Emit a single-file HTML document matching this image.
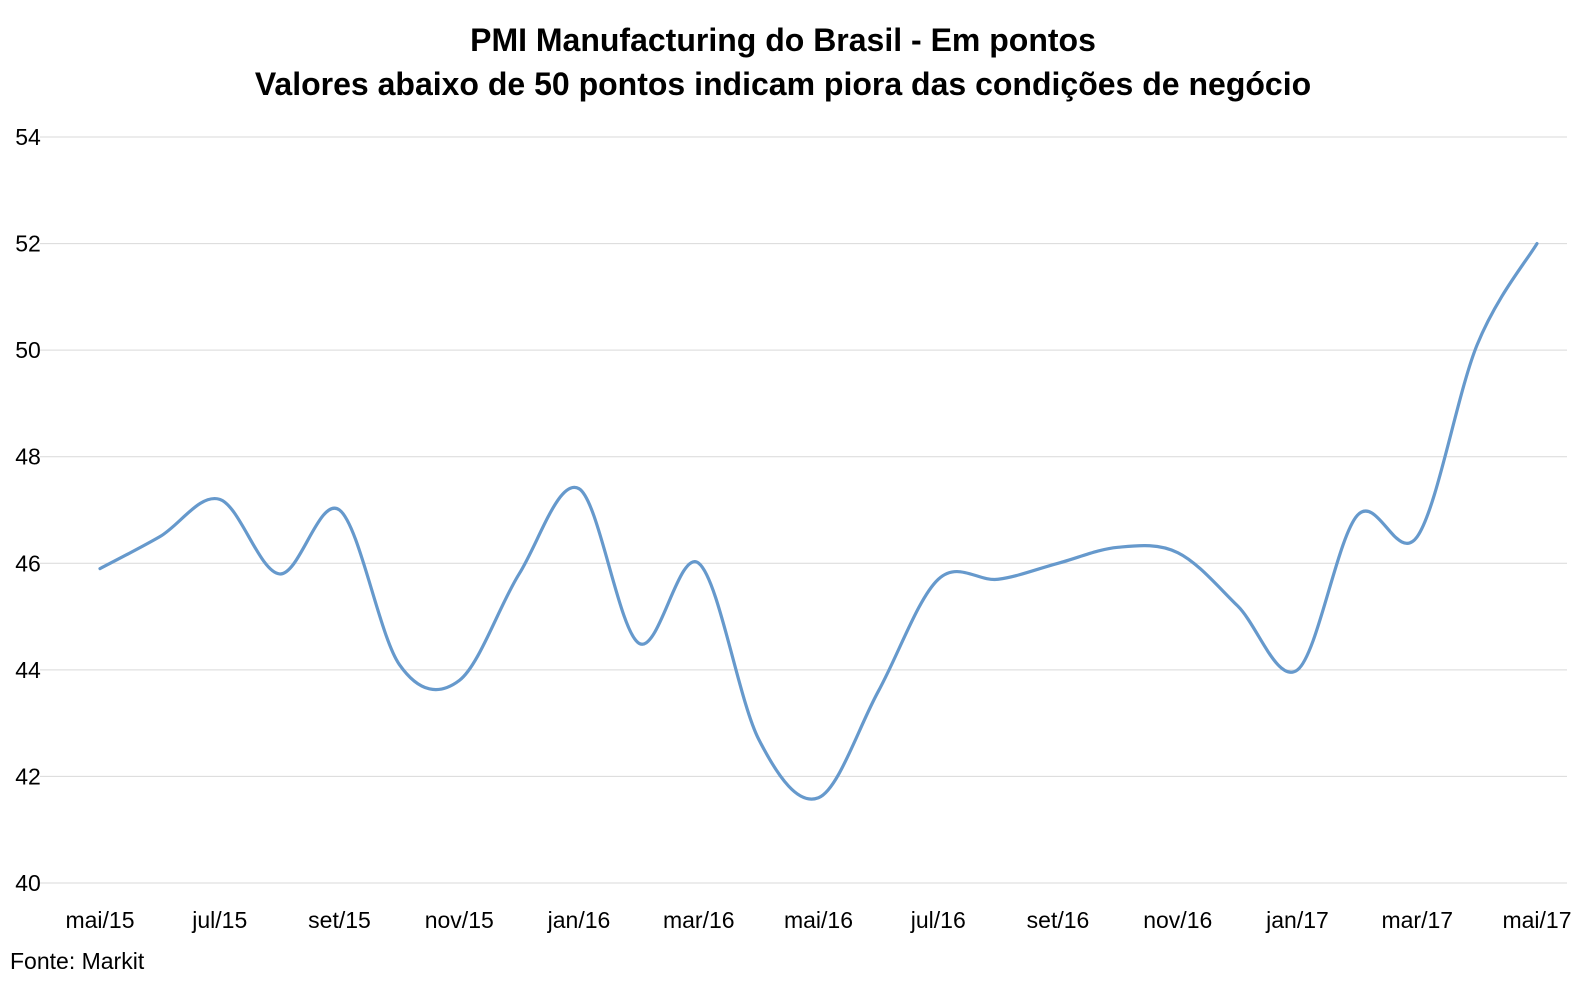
<!DOCTYPE html>
<html><head><meta charset="utf-8"><style>
html,body{margin:0;padding:0;background:#fff;}
svg{display:block;font-family:"Liberation Sans",sans-serif;}
</style></head><body>
<svg id="chart" width="1580" height="986">
<text x="783" y="51" text-anchor="middle" font-size="32" font-weight="bold" fill="#000">PMI Manufacturing do Brasil - Em pontos</text>
<text x="783" y="95" text-anchor="middle" font-size="32" font-weight="bold" fill="#000">Valores abaixo de 50 pontos indicam piora das condições de negócio</text>
<g id="grid"></g>
<g id="yticks"></g>
<g id="xticks"></g>
<path id="line" fill="none" stroke="#6699CC" stroke-width="3.2" stroke-linejoin="round" stroke-linecap="round"></path>
<text x="10" y="969" font-size="23" fill="#000">Fonte: Markit</text>
</svg>
<script>
const months = ["mai/15","jun/15","jul/15","ago/15","set/15","out/15","nov/15","dez/15","jan/16","fev/16","mar/16","abr/16","mai/16","jun/16","jul/16","ago/16","set/16","out/16","nov/16","dez/16","jan/17","fev/17","mar/17","abr/17","mai/17"];
const values = [45.9,46.5,47.2,45.8,47.0,44.1,43.8,45.8,47.4,44.5,46.0,42.7,41.6,43.6,45.7,45.7,46.0,46.3,46.2,45.2,44.0,46.9,46.5,50.1,52.0];
const yTicks = [40,42,44,46,48,50,52,54];
const NS="http://www.w3.org/2000/svg";
const x0=100, dx=59.875;
const xs=i=>x0+i*dx;
const ys=v=>883-(v-40)*(883-137)/14;
const grid=document.getElementById('grid'), yt=document.getElementById('yticks'), xt=document.getElementById('xticks');
yTicks.forEach(v=>{
  const l=document.createElementNS(NS,'line');
  l.setAttribute('x1',40);l.setAttribute('x2',1567);l.setAttribute('y1',ys(v));l.setAttribute('y2',ys(v));
  l.setAttribute('stroke','#D9D9D9');l.setAttribute('stroke-width',1);
  
  
  grid.appendChild(l);
  const t=document.createElementNS(NS,'text');
  t.setAttribute('x',28);t.setAttribute('y',ys(v)+8);t.setAttribute('text-anchor','middle');t.setAttribute('font-size',23);
  t.textContent=v;
  
  
  yt.appendChild(t);
});
months.forEach((m,i)=>{
  if(i%2) return;
  const t=document.createElementNS(NS,'text');
  t.setAttribute('x',xs(i));t.setAttribute('y',928);t.setAttribute('text-anchor','middle');t.setAttribute('font-size',23);
  t.textContent=m;
  
  
  xt.appendChild(t);
});
const pts=values.map((v,i)=>[xs(i),ys(v)]);
let d=`M${pts[0][0]},${pts[0][1]}`;
const k=1/6;
for(let i=0;i<pts.length-1;i++){
  const p0=pts[Math.max(i-1,0)],p1=pts[i],p2=pts[i+1],p3=pts[Math.min(i+2,pts.length-1)];
  const c1=[p1[0]+(p2[0]-p0[0])*k,p1[1]+(p2[1]-p0[1])*k];
  const c2=[p2[0]-(p3[0]-p1[0])*k,p2[1]-(p3[1]-p1[1])*k];
  d+=` C${c1[0]},${c1[1]} ${c2[0]},${c2[1]} ${p2[0]},${p2[1]}`;
}
document.getElementById('line').setAttribute('d',d);
</script>
</body></html>
